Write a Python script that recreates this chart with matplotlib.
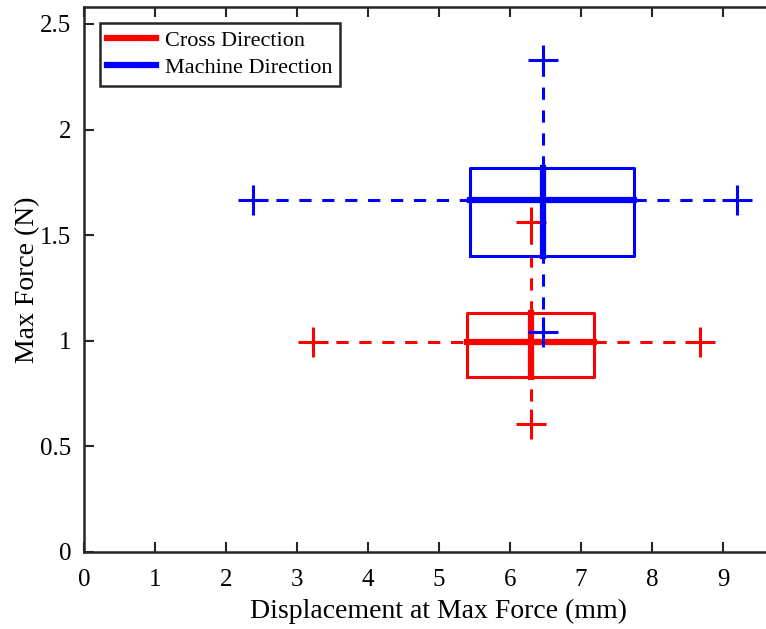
import matplotlib.pyplot as plt

plt.rcParams['font.family'] = ['Liberation Serif', 'DejaVu Serif']

# box: [q1, median, q3], whiskers: [min, max]
cross_x_box = [5.40, 6.30, 7.19]
cross_x_whisk = [3.22, 8.67]
cross_y_box = [0.827, 0.995, 1.13]
cross_y_whisk = [0.606, 1.56]

mach_x_box = [5.44, 6.46, 7.75]
mach_x_whisk = [2.38, 9.20]
mach_y_box = [1.40, 1.667, 1.82]
mach_y_whisk = [1.043, 2.33]

names = ["Cross Direction", "Machine Direction"]
colors = ["#ff0000", "#0000ff"]

fig = plt.figure(figsize=(7.66, 6.29), dpi=100)
ax = fig.add_axes([84/766, 77/629, 710/766, 545/629])


def box2d(ax, xb, xw, yb, yw, c, name):
    # box
    ax.plot([xb[0], xb[2], xb[2], xb[0], xb[0]],
            [yb[0], yb[0], yb[2], yb[2], yb[0]], color=c, lw=2.2)
    # dashed whiskers
    ax.plot([xw[0], xb[0]], [yb[1], yb[1]], '--', color=c, lw=2.2, dashes=(4, 3.5))
    ax.plot([xb[2], xw[1]], [yb[1], yb[1]], '--', color=c, lw=2.2, dashes=(4, 3.5))
    ax.plot([xb[1], xb[1]], [yw[0], yb[0]], '--', color=c, lw=2.2, dashes=(4, 3.5))
    ax.plot([xb[1], xb[1]], [yb[2], yw[1]], '--', color=c, lw=2.2, dashes=(4, 3.5))
    # medians
    ax.plot([xb[0], xb[2]], [yb[1], yb[1]], color=c, lw=4.5, label=name)
    ax.plot([xb[1], xb[1]], [yb[0], yb[2]], color=c, lw=4.5)
    # whisker ends
    ax.plot(xw, [yb[1], yb[1]], '+', color=c, ms=22, mew=2.2)
    ax.plot([xb[1], xb[1]], yw, '+', color=c, ms=22, mew=2.2)


box2d(ax, cross_x_box, cross_x_whisk, cross_y_box, cross_y_whisk, colors[0], names[0])
box2d(ax, mach_x_box, mach_x_whisk, mach_y_box, mach_y_whisk, colors[1], names[1])

ax.set_xlim(0, 10)
ax.set_ylim(0, 2.58)
ax.set_xticks(range(0, 10))
ax.set_yticks([0, 0.5, 1, 1.5, 2, 2.5])
ax.set_yticklabels(["0", "0.5", "1", "1.5", "2", "2.5"])
ax.tick_params(direction='in', length=7, width=1.5, labelsize=18,
               top=True, right=True, colors='#262626', labelcolor='black')
ax.tick_params(axis='x', pad=12)
ax.tick_params(axis='y', pad=9)
for s in ax.spines.values():
    s.set_linewidth(1.8)
    s.set_color('#262626')

ax.set_xlabel("Displacement at Max Force (mm)", fontsize=20, labelpad=6)
ax.set_ylabel("Max Force (N)", fontsize=20, labelpad=0)

leg = ax.legend(loc='upper left', fontsize=16, fancybox=False, framealpha=1,
                edgecolor='#262626', handlelength=2.2, borderpad=0.35,
                labelspacing=0.3, handletextpad=0.4, borderaxespad=0.7)
leg.get_frame().set_linewidth(1.8)

fig.savefig("out.png", dpi=100)
